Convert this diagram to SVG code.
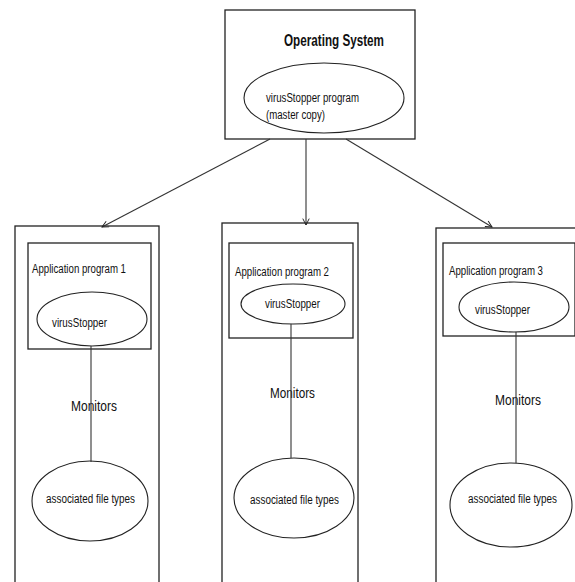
<svg xmlns="http://www.w3.org/2000/svg" width="575" height="582" viewBox="0 0 575 582">
<style>
.box{fill:none;stroke:#222;stroke-width:1.3}
.ell{fill:#fff;stroke:#222;stroke-width:1.1}
.ln{stroke:#333;stroke-width:1.1;fill:none}
.t{font-family:"Liberation Sans",Arial,sans-serif;font-size:12.5px;fill:#111}
.m{font-family:"Liberation Sans",Arial,sans-serif;font-size:15px;fill:#111}
.h{font-family:"Liberation Sans",Arial,sans-serif;font-size:17px;font-weight:bold;fill:#111}
</style>
<defs>
<marker id="ah" viewBox="0 0 10 10" refX="9" refY="5" markerWidth="8" markerHeight="8" orient="auto" markerUnits="userSpaceOnUse">
<path d="M1,1 L9,5 L1,9" fill="none" stroke="#222" stroke-width="1.2"/>
</marker>
</defs>
<rect width="575" height="582" fill="#fff"/>
<g id="os">
<rect class="box" x="225" y="10" width="190" height="129"/>
<text class="h" x="284" y="46" textLength="100" lengthAdjust="spacingAndGlyphs">Operating System</text>
<ellipse class="ell" cx="324" cy="98" rx="80" ry="35"/>
<text class="t" x="266" y="102" textLength="93" lengthAdjust="spacingAndGlyphs">virusStopper program</text>
<text class="t" x="266" y="119" textLength="59" lengthAdjust="spacingAndGlyphs">(master copy)</text>
</g>
<g id="app1">
<rect class="box" x="15" y="226" width="144" height="370"/>
<rect class="box" x="28" y="243" width="123" height="106"/>
<text class="t" x="32" y="273" textLength="94" lengthAdjust="spacingAndGlyphs">Application program 1</text>
<ellipse class="ell" cx="92" cy="319" rx="55" ry="27"/>
<text class="t" x="52" y="327" textLength="55" lengthAdjust="spacingAndGlyphs">virusStopper</text>
<text class="m" x="71" y="411" textLength="46" lengthAdjust="spacingAndGlyphs">Monitors</text>
<ellipse class="ell" cx="90" cy="501" rx="58" ry="40"/>
<text class="t" x="46" y="503" textLength="89" lengthAdjust="spacingAndGlyphs">associated file types</text>
</g>
<g id="app2">
<rect class="box" x="222" y="223" width="136" height="373"/>
<rect class="box" x="229" y="243" width="124" height="95"/>
<text class="t" x="235" y="276" textLength="94" lengthAdjust="spacingAndGlyphs">Application program 2</text>
<ellipse class="ell" cx="293" cy="304" rx="52" ry="20"/>
<text class="t" x="265" y="308" textLength="55" lengthAdjust="spacingAndGlyphs">virusStopper</text>
<text class="m" x="270" y="398" textLength="45" lengthAdjust="spacingAndGlyphs">Monitors</text>
<ellipse class="ell" cx="294" cy="498" rx="60" ry="40"/>
<text class="t" x="250" y="504" textLength="89" lengthAdjust="spacingAndGlyphs">associated file types</text>
</g>
<g id="app3">
<rect class="box" x="436" y="228" width="160" height="368"/>
<rect class="box" x="443" y="243" width="132" height="93"/>
<text class="t" x="449" y="275" textLength="94" lengthAdjust="spacingAndGlyphs">Application program 3</text>
<ellipse class="ell" cx="514" cy="307" rx="55" ry="25"/>
<text class="t" x="475" y="314" textLength="55" lengthAdjust="spacingAndGlyphs">virusStopper</text>
<text class="m" x="495" y="405" textLength="46" lengthAdjust="spacingAndGlyphs">Monitors</text>
<ellipse class="ell" cx="511" cy="505" rx="61" ry="42"/>
<text class="t" x="468" y="503" textLength="89" lengthAdjust="spacingAndGlyphs">associated file types</text>
</g>
<g id="connectors">
<line class="ln" x1="270" y1="139" x2="102" y2="227" marker-end="url(#ah)"/>
<line class="ln" x1="306" y1="139" x2="306" y2="225" marker-end="url(#ah)"/>
<line class="ln" x1="346" y1="139" x2="492" y2="227" marker-end="url(#ah)"/>
<line class="ln" x1="91" y1="346" x2="91" y2="462"/>
<line class="ln" x1="291" y1="324" x2="291" y2="458"/>
<line class="ln" x1="516" y1="332" x2="516" y2="463"/>
</g>
</svg>
